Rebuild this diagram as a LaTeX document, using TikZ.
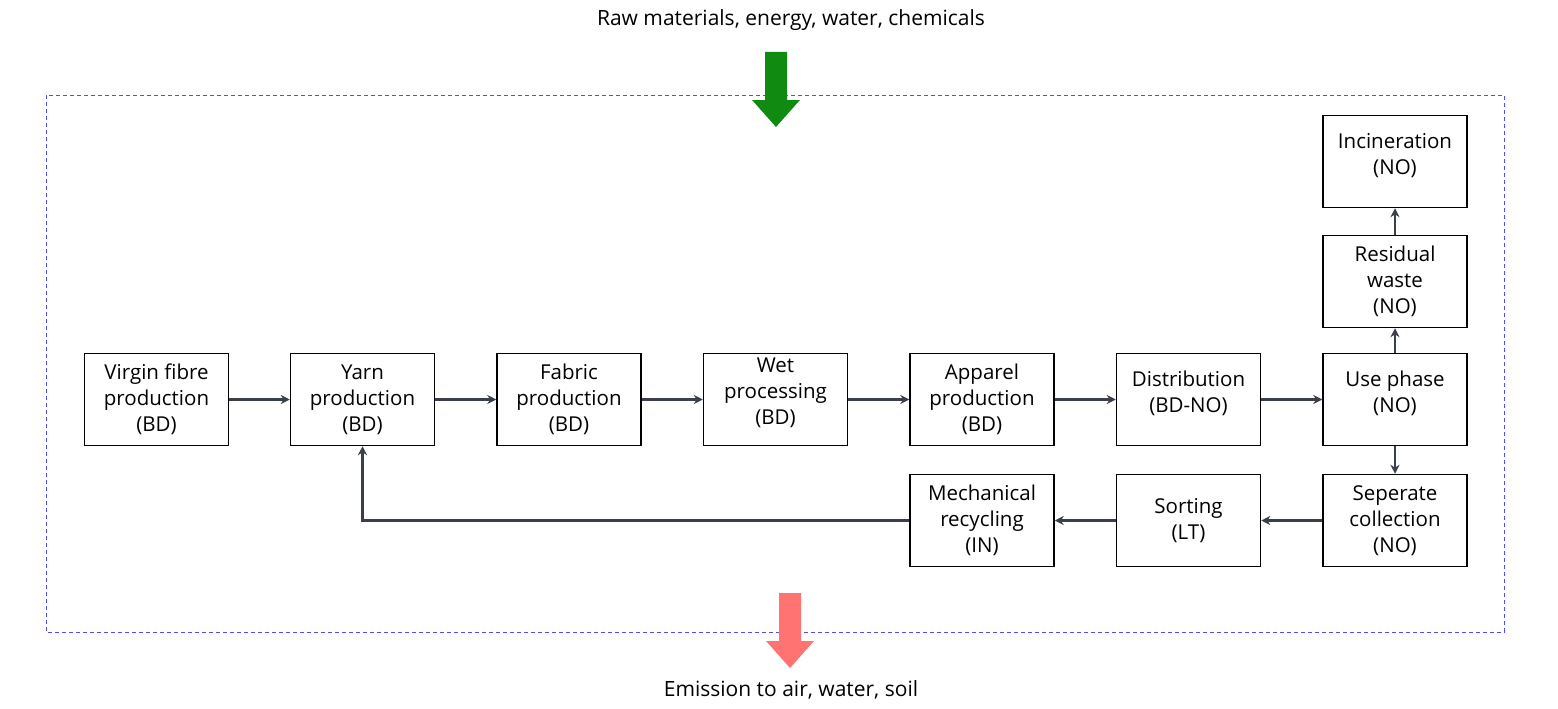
\documentclass[tikz,border=0pt]{standalone}
\usepackage{fontspec}
\setmainfont{Open Sans}
\usetikzlibrary{arrows.meta}
\definecolor{ac}{HTML}{3A404A}
\definecolor{gr}{HTML}{118A11}
\definecolor{rd}{HTML}{FF7373}
\begin{document}
\begin{tikzpicture}[x=1pt,y=-1pt,
 box/.style={draw=black,line width=1.5pt,minimum width=144pt,minimum height=92pt,align=center,font=\fontsize{20.5}{26}\selectfont,inner sep=2pt},
 arr/.style={draw=ac,line width=2.2pt,-{Stealth[length=9pt,width=9pt]}},
 lbl/.style={font=\fontsize{21}{26}\selectfont}]
\useasboundingbox (0,0) rectangle (1558,709);
\draw[blue!70,line width=1pt,dash pattern=on 4pt off 3pt] (46,95) rectangle (1504,632);
\node[lbl] (top) at (791,20) {Raw materials, energy, water, chemicals};
\node[lbl] (bot) at (791,690) {Emission to air, water, soil};
\fill[gr] (765,52) -- (787,52) -- (787,100) -- (800,100) -- (776,127) -- (752,100) -- (765,100) -- cycle;
\fill[rd] (779,593) -- (801,593) -- (801,641) -- (814,641) -- (790,668) -- (766,641) -- (779,641) -- cycle;
\node[box] (vf) at (156.5,399.5) {Virgin fibre\\production\\(BD)};
\node[box] (yp) at (362.5,399.5) {Yarn\\production\\(BD)};
\node[box] (fp) at (569,399.5) {Fabric\\production\\(BD)};
\node[box] (wp) at (775.5,399.5) {Wet\\processing\\(BD)\\[-10pt]};
\node[box] (ap) at (982,399.5) {Apparel\\production\\(BD)};
\node[box] (di) at (1188.5,399.5) {Distribution\\(BD-NO)\\[-10pt]};
\node[box] (up) at (1395,399.5) {Use phase\\(NO)\\[-10pt]};
\node[box] (rw) at (1395,281.5) {Residual\\waste\\(NO)};
\node[box] (in) at (1395,161.5) {Incineration\\(NO)\\[-10pt]};
\node[box] (sc) at (1395,520.5) {Seperate\\collection\\(NO)};
\node[box] (so) at (1188.5,520.5) {Sorting\\(LT)};
\node[box] (mr) at (982,520.5) {Mechanical\\recycling\\(IN)};
\foreach \a/\b in {vf/yp,yp/fp,fp/wp,wp/ap,ap/di,di/up,sc/so,so/mr}
  \draw[arr] (\a) -- (\b);
\draw[arr] (up) -- (rw);
\draw[arr] (rw) -- (in);
\draw[arr] (up) -- (sc);
\draw[arr] (mr.west) -- (yp.south |- mr.west) -- (yp.south);
\end{tikzpicture}
\end{document}
